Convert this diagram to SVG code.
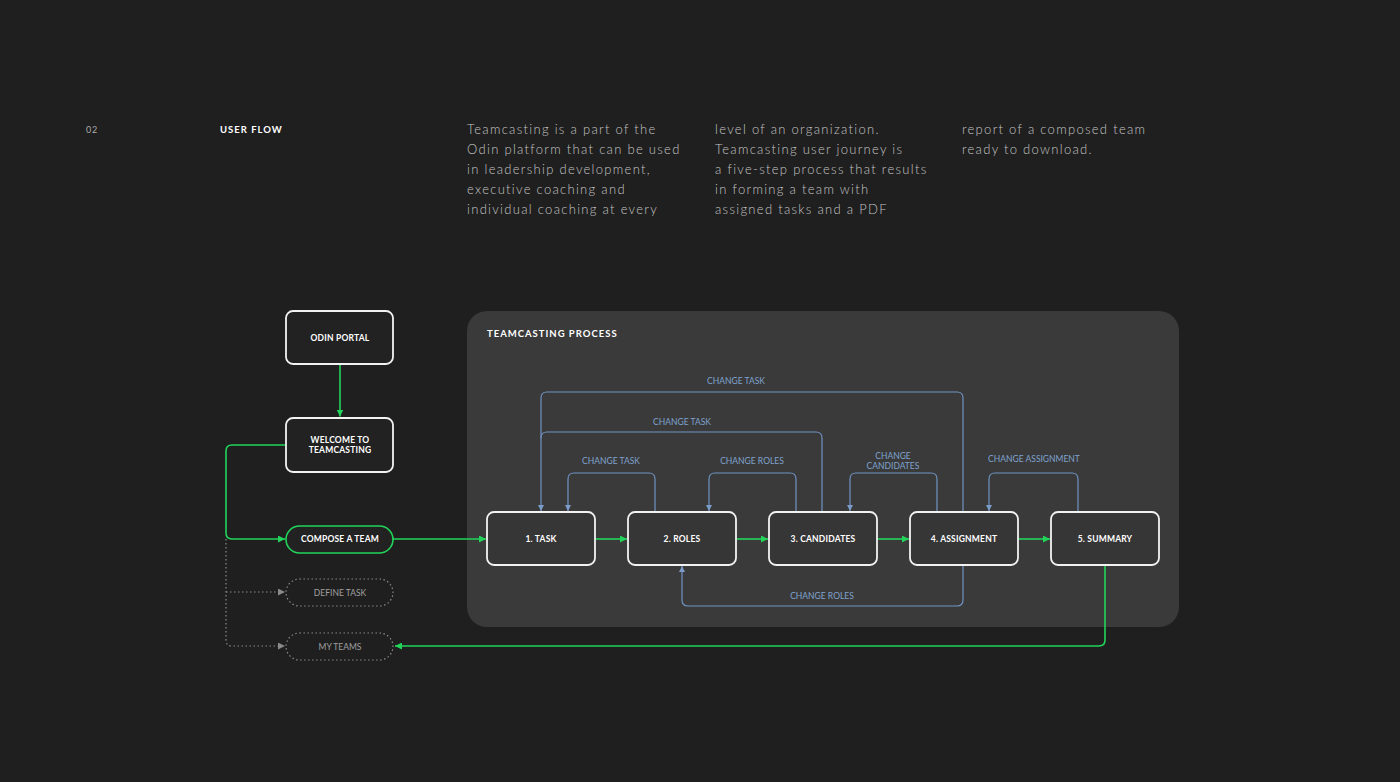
<svg xmlns="http://www.w3.org/2000/svg" width="1400" height="782" viewBox="0 0 1400 782">
<defs>
<style>
.para{font-family:Lato,"Noto Sans",sans-serif;font-weight:300;font-size:13px;letter-spacing:1.3px;fill:#c4c4c4}
.lbl{font-family:Lato,"Noto Sans",sans-serif;font-weight:700;font-size:8.5px;fill:#ffffff;text-anchor:middle;letter-spacing:0.2px}
.dlbl{font-family:Lato,"Noto Sans",sans-serif;font-weight:400;font-size:8.5px;fill:#a0a0a0;text-anchor:middle}
.blbl{font-family:Lato,"Noto Sans",sans-serif;font-weight:400;font-size:8.5px;fill:#7fa2cf;text-anchor:middle}
.head{font-family:Lato,"Noto Sans",sans-serif;font-weight:700;font-size:9.5px;fill:#ffffff;letter-spacing:1px}
.box{fill:#222222;stroke:#f2f2f2;stroke-width:1.8}
.pbox{fill:#363636;stroke:#f2f2f2;stroke-width:1.8}
.g{fill:none;stroke:#22d45a;stroke-width:1.6}
.b{fill:none;stroke:#6f93c2;stroke-width:1.2}
.d{fill:none;stroke:#8a8a8a;stroke-width:1.2;stroke-dasharray:1.5 2.5}
</style>
<marker id="ag" viewBox="0 0 10 10" refX="10" refY="5" markerWidth="7" markerHeight="7" orient="auto" markerUnits="userSpaceOnUse"><path d="M0,0 L10,5 L0,10 z" fill="#22d45a"/></marker>
<marker id="ab" viewBox="0 0 10 10" refX="10" refY="5" markerWidth="6" markerHeight="6" orient="auto" markerUnits="userSpaceOnUse"><path d="M0,0 L10,5 L0,10 z" fill="#7b9cc8"/></marker>
<marker id="ad" viewBox="0 0 10 10" refX="10" refY="5" markerWidth="7" markerHeight="7" orient="auto" markerUnits="userSpaceOnUse"><path d="M0,0 L10,5 L0,10 z" fill="#8a8a8a"/></marker>
</defs>
<rect x="0" y="0" width="1400" height="782" fill="#1f1f1f"/>

<g id="header">
<text x="86" y="133" font-family="Lato,'Noto Sans',sans-serif" font-size="9" fill="#aaaaaa" letter-spacing="0.8">02</text>
<text x="220" y="133" class="head">USER FLOW</text>
<text class="para"><tspan x="467" y="134">Teamcasting is a part of the</tspan><tspan x="467" y="154">Odin platform that can be used</tspan><tspan x="467" y="174">in leadership development,</tspan><tspan x="467" y="194">executive coaching and</tspan><tspan x="467" y="214">individual coaching at every</tspan></text>
<text class="para"><tspan x="715" y="134">level of an organization.</tspan><tspan x="715" y="154">Teamcasting user journey is</tspan><tspan x="715" y="174">a five-step process that results</tspan><tspan x="715" y="194">in forming a team with</tspan><tspan x="715" y="214">assigned tasks and a PDF</tspan></text>
<text class="para"><tspan x="962" y="134">report of a composed team</tspan><tspan x="962" y="154">ready to download.</tspan></text>
</g>

<g id="panel">
<rect x="467" y="311" width="712" height="316" rx="20" fill="#3a3a3a"/>
<text x="487" y="337" class="head">TEAMCASTING PROCESS</text>
</g>

<g id="connectors">
<path class="g" d="M340,365 V416.5" marker-end="url(#ag)"/>
<path class="g" d="M286,445 H232 Q226,445 226,451 V533 Q226,539 232,539 H285" marker-end="url(#ag)"/>
<path class="d" d="M226,539 V640 Q226,646 232,646 H285" marker-end="url(#ad)"/>
<path class="d" d="M226,592 H285" marker-end="url(#ad)"/>
<path class="g" d="M393,539 H486" marker-end="url(#ag)"/>
<path class="g" d="M595,539 H627" marker-end="url(#ag)"/>
<path class="g" d="M736,539 H768" marker-end="url(#ag)"/>
<path class="g" d="M877,539 H909" marker-end="url(#ag)"/>
<path class="g" d="M1018,539 H1050" marker-end="url(#ag)"/>
<path class="g" d="M1105,566 V640 Q1105,646 1099,646 H395" marker-end="url(#ag)"/>

<path class="b" d="M963,512 V398 Q963,392 957,392 H547 Q541,392 541,398 V511" marker-end="url(#ab)"/>
<path class="b" d="M822,512 V438 Q822,432 816,432 H547 Q541,432 541,438"/>
<path class="b" d="M655,512 V479 Q655,473 649,473 H574 Q568,473 568,479 V511" marker-end="url(#ab)"/>
<path class="b" d="M796,512 V479 Q796,473 790,473 H715 Q709,473 709,479 V511" marker-end="url(#ab)"/>
<path class="b" d="M937,512 V479 Q937,473 931,473 H856 Q850,473 850,479 V511" marker-end="url(#ab)"/>
<path class="b" d="M1078,512 V479 Q1078,473 1072,473 H995 Q989,473 989,479 V511" marker-end="url(#ab)"/>
<path class="b" d="M963,566 V600 Q963,606 957,606 H688 Q682,606 682,600 V566" marker-end="url(#ab)"/>

<text x="736" y="384" class="blbl">CHANGE TASK</text>
<text x="682" y="425" class="blbl">CHANGE TASK</text>
<text x="611" y="464" class="blbl">CHANGE TASK</text>
<text x="752" y="464" class="blbl">CHANGE ROLES</text>
<text x="893" y="459" class="blbl">CHANGE</text>
<text x="893" y="469" class="blbl">CANDIDATES</text>
<text x="1034" y="462" class="blbl">CHANGE ASSIGNMENT</text>
<text x="822" y="599" class="blbl">CHANGE ROLES</text>
</g>

<g id="odin-portal"><rect class="box" x="286" y="311" width="107" height="53" rx="7"/><text x="340" y="341" class="lbl">ODIN PORTAL</text></g>
<g id="welcome"><rect class="box" x="286" y="418" width="107" height="54" rx="7"/><text x="340" y="443" class="lbl">WELCOME TO</text><text x="340" y="453" class="lbl">TEAMCASTING</text></g>
<g id="compose"><rect x="286" y="526" width="107" height="27" rx="13.5" fill="#222222" stroke="#22d45a" stroke-width="1.6"/><text x="340" y="542" class="lbl">COMPOSE A TEAM</text></g>
<g id="define-task"><rect class="d" x="286" y="579" width="107" height="27" rx="13.5"/><text x="340" y="596" class="dlbl">DEFINE TASK</text></g>
<g id="my-teams"><rect class="d" x="286" y="633" width="107" height="27" rx="13.5"/><text x="340" y="650" class="dlbl">MY TEAMS</text></g>

<g id="task"><rect class="pbox" x="487" y="512" width="108" height="53" rx="7"/><text x="541" y="542" class="lbl">1. TASK</text></g>
<g id="roles"><rect class="pbox" x="628" y="512" width="108" height="53" rx="7"/><text x="682" y="542" class="lbl">2. ROLES</text></g>
<g id="candidates"><rect class="pbox" x="769" y="512" width="108" height="53" rx="7"/><text x="823" y="542" class="lbl">3. CANDIDATES</text></g>
<g id="assignment"><rect class="pbox" x="910" y="512" width="108" height="53" rx="7"/><text x="964" y="542" class="lbl">4. ASSIGNMENT</text></g>
<g id="summary"><rect class="pbox" x="1051" y="512" width="108" height="53" rx="7"/><text x="1105" y="542" class="lbl">5. SUMMARY</text></g>
</svg>
